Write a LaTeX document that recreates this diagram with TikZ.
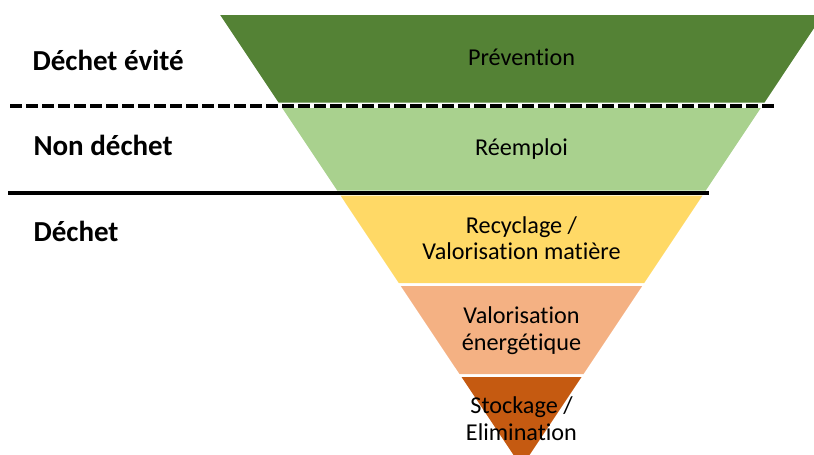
\documentclass[tikz,border=0pt]{standalone}
\usepackage{fontspec}
\setmainfont{Carlito}[Ligatures=NoCommon]
\usepackage{tikz}
\usetikzlibrary{calc}

\definecolor{vertfonce}{HTML}{548235}
\definecolor{vertclair}{HTML}{A9D18E}
\definecolor{jaune}{HTML}{FFD966}
\definecolor{saumon}{HTML}{F4B183}
\definecolor{rouille}{HTML}{C55A11}

\begin{document}
\begin{tikzpicture}[x=1pt, y=-1pt,
  texte/.style={anchor=base, align=center, font=\fontsize{24.2}{26.5}\selectfont},
  etiquette/.style={anchor=base west, font=\fontsize{29}{32}\selectfont\bfseries}]

    %% Cadre
    \useasboundingbox (0,0) rectangle (814,455);

  % Tranches de l'entonnoir
  \coordinate (Sommet) at (521.5,467);
  \fill[vertfonce] (220.2,15) -- (822.8,15) -- (764.5,102.5) -- (278.5,102.5) -- cycle;
  \fill[vertclair] (282.2,108) -- (760.8,108) -- (705.8,190.5) -- (337.2,190.5) -- cycle;
  \fill[jaune] (340.5,195.5) -- (702.5,195.5) -- (644.2,283) -- (398.8,283) -- cycle;
  \fill[saumon] (400.8,286) -- (642.2,286) -- (583.5,374) -- (459.5,374) -- cycle;
  \fill[rouille] (461.5,377) -- (581.5,377) -- (Sommet) -- cycle;

  % Textes des tranches (base = ligne du bas)
  \node[texte] (prevention) at (521.5,65.7) {Prévention};
  \node[texte] (reemploi) at (521.5,155.7) {Réemploi};
  \node[texte] (recyclage) at (521.5,259.5) {Recyclage /\\Valorisation matière};
  \node[texte] (valorisation) at (521.5,350) {Valorisation\\énergétique};
  \node[texte] (stockage) at (521.5,440) {Stockage /\\Elimination};

  % Etiquettes de gauche
  \node[etiquette] (evite) at (29,70) {Déchet évité};
  \node[etiquette] (nondechet) at (30,155) {Non déchet};
  \node[etiquette] (dechet) at (30,241.5) {Déchet};

  % Lignes de séparation
  \coordinate (pointillesG) at (10,105.8);
  \coordinate (pointillesD) at (775,105.8);
  \coordinate (traitG) at (8,193.2);
  \coordinate (traitD) at (709,193.2);
  \draw[line width=3.8pt, dash pattern=on 11.7pt off 4.3pt] (pointillesG) -- (pointillesD);
  \draw[line width=3.8pt] (traitG) -- (traitD);

\end{tikzpicture}
\end{document}
